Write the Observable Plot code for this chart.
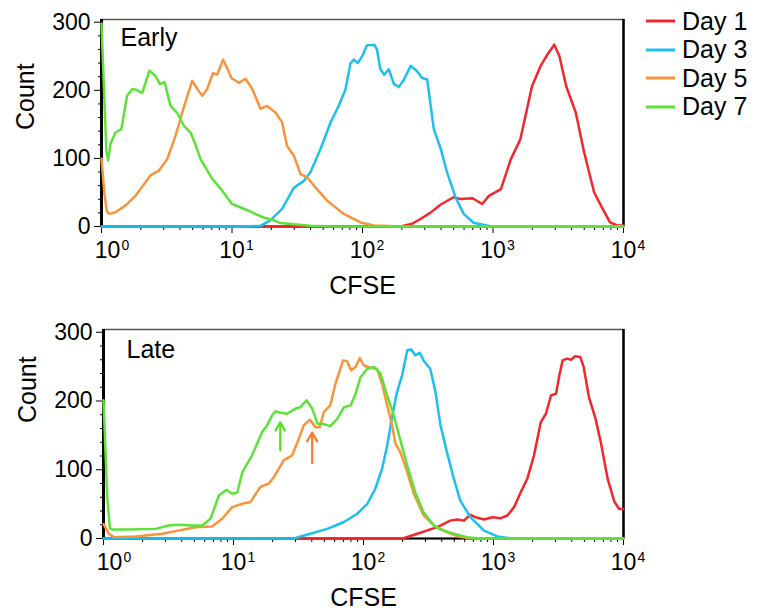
<!DOCTYPE html>
<html><head><meta charset="utf-8">
<script src="https://cdn.jsdelivr.net/npm/d3@7"></script>
<script src="https://cdn.jsdelivr.net/npm/@observablehq/plot@0.6"></script>
<style>
body{margin:0;background:#fff;font-family:"Liberation Sans",Arial,sans-serif;}
#wrap{position:relative;width:758px;height:612px;overflow:hidden;}
.panel{position:absolute;left:0;}
.lg{position:absolute;left:646px;height:30px;display:flex;align-items:center;font-size:25px;color:#000;}
.lg svg{margin-right:7px;}
</style></head><body>
<div id="wrap"><div id="p1" class="panel" style="top:0"></div><div id="p2" class="panel" style="top:300px"></div><div id="legend"></div></div>
<script>
// ---- data (CFSE value, count) ----
const seriesNames = ["Day 1", "Day 3", "Day 5", "Day 7"];
const seriesColors = ["#f0282d", "#1dbfef", "#f7943c", "#5ee23a"];

const earlyDay1 = [[1,0],[196,0],[240,4],[278,11],[330,20],[396,32],[498,43],[563,40.5],[698,41.5],[826,33],[930,45],[1150,55],[1370,99],[1620,128],[1990,206],[2320,236],[2620,253],[2950,267],[3230,250],[3640,206],[4310,167],[4990,109],[5960,50],[6830,28],[7880,6],[9000,1.5],[10000,1.5]];
const earlyDay3 = [[1,0],[12,0],[16.5,1],[19.7,9],[24.2,26],[29.8,57],[35.5,67],[40,80],[47.7,114],[57,153],[65.6,177],[74,201],[81,240],[86,245],[92,240],[99.5,250],[108,266],[123,267],[129,260],[137,231],[147,223],[159,231],[174,209],[190,205],[208,216],[234,236],[262,228],[286,218],[313,216],[352,143],[396,115],[444,80],[516,43],[596,18.5],[709,5.5],[955,0.5],[1200,0],[10000,0]];
const earlyDay5 = [[1,100],[1.05,50],[1.1,22],[1.15,18.5],[1.28,21],[1.53,31],[1.82,45],[2.37,75],[2.75,82],[3.19,99],[3.69,133],[4.27,175],[4.95,214],[5.42,202],[5.92,192],[6.45,202],[7.14,225],[7.7,223],[8.55,245],[9.17,233],[9.9,218],[11.3,211],[12.7,217],[14.3,202],[16.5,173],[18.6,177],[21.6,167],[24.2,153],[26.4,118.5],[29.8,104],[33.5,77],[37.7,72],[43.6,57.5],[53.6,38],[71.8,18.5],[96.5,6],[122,1.5],[200,0],[10000,0]];
const earlyDay7 = [[1,298],[1.09,110],[1.125,97],[1.17,121],[1.28,138],[1.42,143],[1.57,192],[1.72,202],[1.84,201],[2.05,196],[2.33,229],[2.59,221],[2.8,209],[3.04,212],[3.38,177],[3.8,167],[4.27,148],[4.81,138],[5.19,123],[5.74,99],[7.05,70],[8.4,53],[10,33],[12.7,25],[17,14],[21.6,8],[23.5,5],[39.8,1],[60,0],[10000,0]];

const lateDay1 = [[1,0],[200,0],[259,7],[369,16.5],[465,26],[526,27.7],[592,26],[665,34.5],[727,31],[846,27.7],[983,31],[1140,29.6],[1280,33.5],[1440,45.6],[1620,67.4],[1820,87],[2050,121],[2310,169],[2530,181.5],[2770,208],[3030,210.7],[3210,237],[3400,259],[3660,261.6],[3950,260],[4240,265],[4650,264],[4940,249.5],[5420,205.7],[6100,174],[6690,140],[7550,87],[8530,53],[9270,43],[10000,43]];
const lateDay3 = [[1,0],[29,0],[39,7],[52.6,14],[70.8,24],[89.5,36],[107,50.5],[123,72],[139,101.5],[152,135],[166,177],[181,213],[198,237],[217,274],[233,275],[250,266.5],[271,270],[294,257],[326,247],[358,213],[391,164.5],[438,125.7],[495,87],[555,55],[665,31],[846,11.6],[1070,3],[1380,0],[10000,0]];
const lateDay5 = [[1,21],[1.1,7],[1.2,2],[1.76,3],[2.83,7],[3.8,11.6],[5.1,16.5],[6.85,17.5],[8.18,28.7],[9.77,45.6],[11.7,50.5],[13.5,53],[16.1,75],[18.7,80],[20.4,89],[24.3,113.6],[28.3,121],[31.8,145],[34.7,164.5],[38.7,173],[42.8,162],[46.1,162],[49.5,184],[55.5,193.6],[60.8,225],[69.6,259],[74.7,258],[80.3,244.6],[86.9,249.5],[93.7,262.5],[100.4,252],[113,248],[127,247],[139,225],[152,193.6],[166,164.5],[176,138],[192,125.7],[217,96.5],[244,65],[290,33.5],[347,19],[391,14],[465,7],[556,2],[700,0],[10000,0]];
const lateDay7 = [[1,201],[1.07,58],[1.12,15],[1.17,13],[1.57,13],[2.51,14],[3.18,19],[3.8,20],[4.81,19],[5.74,19],[6.65,28.7],[7.72,62.6],[8.82,71],[9.77,65],[10.7,67],[11.7,96.5],[13.9,121],[16.6,155],[18.1,164.5],[19.8,179],[21,185],[23,183],[25.8,181.5],[30,189],[32.7,191],[36.4,201],[40.3,189],[44.3,167],[48.1,167],[55.5,163.5],[62.9,174],[70.8,191],[79.7,193.6],[86.9,210.7],[95,235],[107,247],[120,249.5],[135,240],[152,208],[171,179],[192,143],[217,106],[250,67],[290,38],[347,19],[391,13],[495,7],[625,2],[800,0],[10000,0]];

// annotation arrows in the late panel
const arrowX = [22.9, 40.3];
const arrowFrom = [128, 110];
const arrowTo = [169, 154];
const arrowColors = ["#55dd22", "#f07c2c"];

// ticks
const xTickValues = [1, 10, 100, 1000, 10000];
const xTickExponents = ["0", "1", "2", "3", "4"];
const xMinorTicks = [2,3,4,5,6,7,8,9,20,30,40,50,60,70,80,90,200,300,400,500,600,700,800,900,2000,3000,4000,5000,6000,7000,8000,9000];
const yTickValues = [0, 100, 200, 300];
const yMinorTicks = [20,40,60,80,120,140,160,180,220,240,260,280];

function panel(series, title, m) {
  const lines = series.map((s, i) => Plot.line(s, {x: d => d[0], y: d => d[1], stroke: seriesColors[i], strokeWidth: 2.5}));
  const extra = m.arrows ? [Plot.arrow(arrowX, {
    x1: d => d, x2: d => d,
    y1: (d, i) => arrowFrom[i], y2: (d, i) => arrowTo[i],
    stroke: (d, i) => arrowColors[i], strokeWidth: 2.2, headLength: 10
  })] : [];
  const first = [0], rest = [1, 2, 3, 4];
  return Plot.plot({
    width: 660, height: m.height,
    marginLeft: m.left, marginRight: 660 - 623, marginTop: m.top, marginBottom: m.bottom,
    style: {fontFamily: "Liberation Sans, Arial, sans-serif", fontSize: "23px", color: "#000", background: "transparent"},
    x: {type: "log", domain: [1, 10000]},
    y: {domain: [0, 304]},
    color: {type: "identity"},
    marks: [
      Plot.frame({stroke: "#555", strokeWidth: 1.5}),
      Plot.axisY({ticks: yMinorTicks, tickSize: 3, tickFormat: () => "", label: null}),
      Plot.axisY({ticks: yTickValues, tickSize: 7, tickPadding: 4, fontSize: 23, label: null}),
      Plot.axisX({ticks: xMinorTicks, tickSize: 4, tickFormat: () => "", label: null}),
      Plot.axisX({ticks: xTickValues, tickSize: 7, tickFormat: () => "", label: null}),
      Plot.text(first, {x: i => xTickValues[i], frameAnchor: "bottom", text: () => "10", dy: 24, dx: 6, fontSize: 23, lineAnchor: "middle"}),
      Plot.text(rest, {x: i => xTickValues[i], frameAnchor: "bottom", text: () => "10", dy: 24, dx: 0, fontSize: 23, lineAnchor: "middle"}),
      Plot.text(first, {x: i => xTickValues[i], frameAnchor: "bottom", text: i => xTickExponents[i], dy: 19, dx: 24, fontSize: 14, lineAnchor: "middle"}),
      Plot.text(rest, {x: i => xTickValues[i], frameAnchor: "bottom", text: i => xTickExponents[i], dy: 19, dx: 18, fontSize: 14, lineAnchor: "middle"}),
      Plot.text(["CFSE"], {frameAnchor: "bottom", dy: 59, fontSize: 25, lineAnchor: "middle"}),
      Plot.text(["Count"], {frameAnchor: "left", dx: -76, dy: m.countDy, rotate: -90, fontSize: 25, lineAnchor: "middle"}),
      Plot.text([title], {frameAnchor: "top-left", dx: m.titleDx, dy: m.titleDy, textAnchor: "start", lineAnchor: "top", fontSize: 25}),
      Plot.ruleY([0], {stroke: "#000", strokeWidth: 2}),
      Plot.ruleX([1], {stroke: "#000", strokeWidth: 3}),
      Plot.ruleX([10000], {stroke: "#000", strokeWidth: 2.5}),
      ...lines,
      ...extra
    ]
  });
}

document.getElementById("p1").append(panel([earlyDay1, earlyDay3, earlyDay5, earlyDay7], "Early",
  {height: 300, left: 101, top: 19, bottom: 74, countDy: 7, titleDx: 19, titleDy: 9}));
document.getElementById("p2").append(panel([lateDay1, lateDay3, lateDay5, lateDay7], "Late",
  {height: 312, left: 103, top: 29, bottom: 74, countDy: -11, titleDx: 23, titleDy: 11, arrows: true}));

// legend
const legendRowCenters = [21, 49.5, 78, 106.5];
const lg = document.getElementById("legend");
seriesNames.forEach((name, i) => {
  const row = document.createElement("div");
  row.className = "lg";
  row.style.top = (legendRowCenters[i] - 15) + "px";
  row.innerHTML = `<svg width="29" height="6"><line x1="0" x2="29" y1="3" y2="3" stroke="${seriesColors[i]}" stroke-width="3"/></svg><span>${name}</span>`;
  lg.append(row);
});
</script>
</body></html>
